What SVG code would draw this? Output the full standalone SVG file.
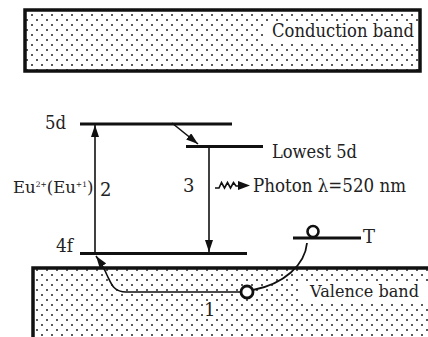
<svg xmlns="http://www.w3.org/2000/svg" width="428" height="337" viewBox="0 0 428 337">
<style>
  text { font-family: 'DejaVu Serif', serif; font-size: 18px; fill: #222; }
  .eu { font-size: 16.5px; }
  .sup { font-size: 7.5px; }
  .vb { font-size: 16px; }
  .band { fill: url(#dots); stroke: #111; stroke-width: 3.5; }
  .level { stroke: #111; stroke-width: 3; fill: none; }
  .arrow { stroke: #111; stroke-width: 1.6; fill: none; marker-end: url(#arr); }
  .curve { stroke: #111; stroke-width: 1.8; fill: none; }
  .mask { fill: #fff; stroke: none; }
</style>
<defs>
  <pattern id="dots" x="1" y="0" width="10" height="10" patternUnits="userSpaceOnUse">
    <rect width="10" height="10" fill="#fff"/>
    <circle cx="1" cy="5" r="1" fill="#222"/>
    <circle cx="6" cy="10" r="1" fill="#222"/>
    <circle cx="6" cy="0" r="1" fill="#222"/>
  </pattern>
  <marker id="arr" viewBox="0 0 12 8" refX="12" refY="4" markerWidth="12" markerHeight="8" markerUnits="userSpaceOnUse" orient="auto">
    <path d="M0,0 L12,4 L0,8 z" fill="#111"/>
  </marker>
</defs>

<g id="conduction-band">
  <rect class="band" x="25" y="10" width="395" height="61"/>
  <rect class="mask" x="266" y="22" width="152" height="20"/>
  <text x="272" y="37" textLength="142" lengthAdjust="spacingAndGlyphs">Conduction band</text>
</g>

<g id="valence-band">
  <rect class="band" x="33" y="268" width="420" height="90"/>
  <rect class="mask" x="298" y="281" width="130" height="22"/>
  <text class="vb" x="310" y="297" textLength="109" lengthAdjust="spacingAndGlyphs">Valence band</text>
</g>

<g id="level-5d">
  <line class="level" x1="80" y1="124" x2="232" y2="124"/>
  <text x="45" y="129" textLength="21" lengthAdjust="spacingAndGlyphs">5d</text>
</g>

<g id="level-lowest-5d">
  <line class="level" x1="186" y1="146.5" x2="263" y2="146.5"/>
  <text x="272" y="158" textLength="85" lengthAdjust="spacingAndGlyphs">Lowest 5d</text>
</g>

<g id="level-4f">
  <line class="level" x1="80" y1="253.5" x2="247" y2="253.5"/>
  <text x="56" y="252" textLength="17" lengthAdjust="spacingAndGlyphs">4f</text>
</g>

<g id="eu-label">
  <text class="eu" x="13" y="193">Eu<tspan class="sup" dy="-6">2+</tspan><tspan dy="6">(Eu</tspan><tspan class="sup" dy="-6">+1</tspan><tspan dy="6">)</tspan></text>
</g>

<g id="trap">
  <line class="level" x1="293" y1="238" x2="361" y2="238"/>
  <circle cx="313" cy="231.5" r="5.5" fill="#fff" stroke="#111" stroke-width="2.6"/>
  <text x="363" y="243">T</text>
</g>

<g id="hole">
  <circle cx="247" cy="292" r="6" fill="#fff" stroke="#111" stroke-width="2.8"/>
</g>

<g id="photon">
  <path d="M215,188 L219,188 L221.5,182.5 L224.5,188 L227.5,182.5 L230.5,188 L233.5,182.5 L236,186 L239,186" stroke="#111" stroke-width="1.6" fill="none"/>
  <path d="M238,181 L250,185.5 L238,190 z" fill="#111"/>
  <text x="253" y="192" textLength="153" lengthAdjust="spacingAndGlyphs">Photon λ=520 nm</text>
</g>

<g id="connectors">
  <line class="arrow" x1="95" y1="253" x2="95" y2="125"/>
  <line class="arrow" x1="172" y1="123" x2="198" y2="144"/>
  <line class="arrow" x1="209" y1="147" x2="209" y2="252"/>
  <path class="arrow" d="M241,292 L126,292 C113,292 111,283 107,275 C104,268 101,263 96,256"/>
  <path class="curve" d="M253,290 C284,284 305,265 307,243"/>
</g>

<g id="labels">
  <text x="100" y="196">2</text>
  <text x="183" y="192">3</text>
  <rect class="mask" x="203" y="302" width="10" height="16"/>
  <text x="204" y="316">1</text>
</g>
</svg>
